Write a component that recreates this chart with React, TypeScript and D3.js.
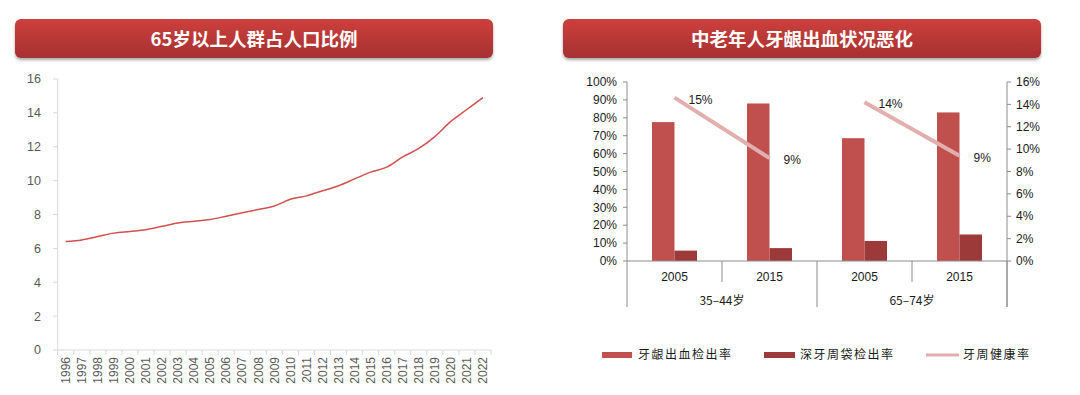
import React from 'react';
import * as d3 from 'd3';

// 65岁以上人群占人口比例 (%)
const years = d3.range(1996, 2023).map(String);
const elderlyShare = [6.4, 6.5, 6.7, 6.9, 7.0, 7.1, 7.3, 7.5, 7.6, 7.7, 7.9, 8.1, 8.3, 8.5, 8.9, 9.1, 9.4, 9.7, 10.1, 10.5, 10.8, 11.4, 11.9, 12.6, 13.5, 14.2, 14.9];
const leftTicks = [0, 2, 4, 6, 8, 10, 12, 14, 16];

// 中老年人牙龈出血状况
const groups = ['35-44岁', '65-74岁'];
const surveyYears = ['2005', '2015'];
const bleedRate = [0.776, 0.88, 0.686, 0.83];     // 牙龈出血检出率
const pocketRate = [0.058, 0.072, 0.112, 0.148];  // 深牙周袋检出率
const healthRate = [0.146, 0.092, 0.142, 0.094];  // 牙周健康率 (right axis)
const seriesNames = ['牙龈出血检出率', '深牙周袋检出率', '牙周健康率'];
const leftPctTicks = d3.range(0, 1.01, 0.1);
const rightPctTicks = d3.range(0, 0.161, 0.02);

const RED = '#c0504d';
const DARK = '#9b3a38';
const PINK = '#e3afae';
const CJK = '"Noto Sans CJK SC", "Noto Sans", sans-serif';
const SANS = '"Liberation Sans", Arial, sans-serif';
const pct = d3.format('.0%');

const Banner = ({ x, w, title }: { x: number, w: number, title: string }) => (
    <g>
        <rect x={x} y={19} width={w} height={39} rx={6} fill="url(#bannerGrad)" filter="url(#bannerShadow)" />
        <text x={x + w / 2} y={39} dy="0.36em" textAnchor="middle" fill="#fff"
            fontFamily={CJK} fontWeight={700} fontSize={18.5}>{title}</text>
    </g>
);

const App = () => {
    // left chart
    const x1 = d3.scaleBand().domain(years).range([57.7, 491]);
    const y1 = d3.scaleLinear().domain([0, 16]).range([350, 79]);
    const line1 = d3.line<number>()
        .x((_, i) => x1(years[i])! + x1.bandwidth() / 2)
        .y(d => y1(d))
        .curve(d3.curveMonotoneX);

    // right chart
    const cats = groups.flatMap(g => surveyYears.map(y => `${g}|${y}`));
    const x2 = d3.scaleBand().domain(cats).range([627, 1007]);
    const xInner = d3.scaleBand().domain(['a', 'b']).range([0, x2.bandwidth()]).paddingOuter(1.111);
    const yL = d3.scaleLinear().domain([0, 1]).range([261, 82]);
    const yR = d3.scaleLinear().domain([0, 0.16]).range([261, 82]);
    const cx = (i: number) => x2(cats[i])! + x2.bandwidth() / 2;

    const base = yL(0);

    return (
        <svg width={1080} height={395} style={{ position: 'absolute', left: 0, top: 0, background: '#fff' }}>
            <defs>
                <linearGradient id="bannerGrad" x1="0" y1="0" x2="0" y2="1">
                    <stop offset="0" stopColor="#cd3f3d" />
                    <stop offset="1" stopColor="#a63131" />
                </linearGradient>
                <filter id="bannerShadow" x="-5%" y="-20%" width="110%" height="160%">
                    <feDropShadow dx="0" dy="2" stdDeviation="1.5" floodColor="#000" floodOpacity="0.35" />
                </filter>
            </defs>

            <Banner x={15} w={478} title="65岁以上人群占人口比例" />
            <Banner x={563} w={478} title="中老年人牙龈出血状况恶化" />

            {/* left chart axes */}
            <g fontFamily={SANS} fontSize={12.5} fill="#595959">
                <line x1={57.7} x2={57.7} y1={y1(16)} y2={y1(0)} stroke="#d9d9d9" />
                <line x1={57.7} x2={491} y1={y1(0)} y2={y1(0)} stroke="#d9d9d9" />
                {leftTicks.map(t => (
                    <g key={t}>
                        <line x1={53} x2={57.7} y1={y1(t)} y2={y1(t)} stroke="#d9d9d9" />
                        <text x={41} y={y1(t)} dy="0.35em" textAnchor="end">{t}</text>
                    </g>
                ))}
                {years.map(yr => (
                    <line key={'t' + yr} x1={x1(yr)! + x1.bandwidth()} x2={x1(yr)! + x1.bandwidth()}
                        y1={y1(0)} y2={y1(0) + 5} stroke="#d9d9d9" />
                ))}
                <line x1={57.7} x2={57.7} y1={y1(0)} y2={y1(0) + 5} stroke="#d9d9d9" />
                {years.map(yr => {
                    const px = x1(yr)! + x1.bandwidth() / 2;
                    return (
                        <text key={yr} transform={`translate(${px},357) rotate(-90)`} dy="0.35em"
                            textAnchor="end" fontSize={12}>{yr}</text>
                    );
                })}
            </g>
            <path d={line1(elderlyShare)!} fill="none" stroke="#d0514e" strokeWidth={1.5} />

            {/* right chart bars */}
            {cats.map((c, i) => (
                <g key={c}>
                    <rect x={x2(c)! + xInner('a')!} width={xInner.bandwidth()} y={yL(bleedRate[i])}
                        height={base - yL(bleedRate[i])} fill={RED} />
                    <rect x={x2(c)! + xInner('b')!} width={xInner.bandwidth()} y={yL(pocketRate[i])}
                        height={base - yL(pocketRate[i])} fill={DARK} />
                </g>
            ))}
            {groups.map((g, gi) => {
                const pts = [0, 1].map(k => gi * 2 + k);
                const ln = d3.line<number>().x(i => cx(i)).y(i => yR(healthRate[i]));
                return (
                    <g key={g}>
                        <path d={ln(pts)!} fill="none" stroke={PINK} strokeWidth={4} />
                        {pts.map(i => (
                            <text key={i} x={cx(i) + 14} y={yR(healthRate[i]) + 2} dy="0.35em"
                                fontFamily={SANS} fontSize={12} fill="#1a1a1a">
                                {pct(healthRate[i])}
                            </text>
                        ))}
                    </g>
                );
            })}

            {/* right chart axes */}
            <g fontFamily={SANS} fontSize={12} fill="#1a1a1a">
                <line x1={627} x2={627} y1={82} y2={307} stroke="#8c8c8c" />
                <line x1={1007} x2={1007} y1={82} y2={307} stroke="#8c8c8c" />
                <line x1={627} x2={1007} y1={base} y2={base} stroke="#8c8c8c" />
                {leftPctTicks.map(t => (
                    <g key={'l' + t}>
                        <line x1={623} x2={627} y1={yL(t)} y2={yL(t)} stroke="#8c8c8c" />
                        <text x={617} y={yL(t)} dy="0.35em" textAnchor="end">{pct(t)}</text>
                    </g>
                ))}
                {rightPctTicks.map(t => (
                    <g key={'r' + t}>
                        <line x1={1007} x2={1011} y1={yR(t)} y2={yR(t)} stroke="#8c8c8c" />
                        <text x={1016} y={yR(t)} dy="0.35em">{pct(t)}</text>
                    </g>
                ))}
                {cats.map((c, i) => (
                    <text key={'x' + c} x={cx(i)} y={277} dy="0.35em" textAnchor="middle">{c.split('|')[1]}</text>
                ))}
                {groups.map((g, gi) => {
                    const gx0 = x2(cats[gi * 2])!;
                    const gx1 = x2(cats[gi * 2 + 1])! + x2.bandwidth();
                    const mid = x2(cats[gi * 2 + 1])!;
                    return (
                        <g key={'g' + g}>
                            <line x1={mid} x2={mid} y1={base} y2={282} stroke="#8c8c8c" />
                            <line x1={gx1} x2={gx1} y1={base} y2={307} stroke="#8c8c8c" />
                            <text x={(gx0 + gx1) / 2} y={301} dy="0.35em" textAnchor="middle"
                                fontFamily={CJK}>{g.replace('-', '–')}</text>
                        </g>
                    );
                })}
            </g>

            {/* legend */}
            <g fontFamily={CJK} fontSize={12} fill="#1a1a1a" letterSpacing={1.5}>
                <rect x={602} y={352} width={30} height={6} fill={RED} />
                <text x={638} y={355} dy="0.35em">{seriesNames[0]}</text>
                <rect x={764} y={352} width={31} height={6} fill={DARK} />
                <text x={800} y={355} dy="0.35em">{seriesNames[1]}</text>
                <line x1={926} x2={959} y1={355} y2={355} stroke={PINK} strokeWidth={3} />
                <text x={963} y={355} dy="0.35em">{seriesNames[2]}</text>
            </g>
        </svg>
    );
};

export default App;
